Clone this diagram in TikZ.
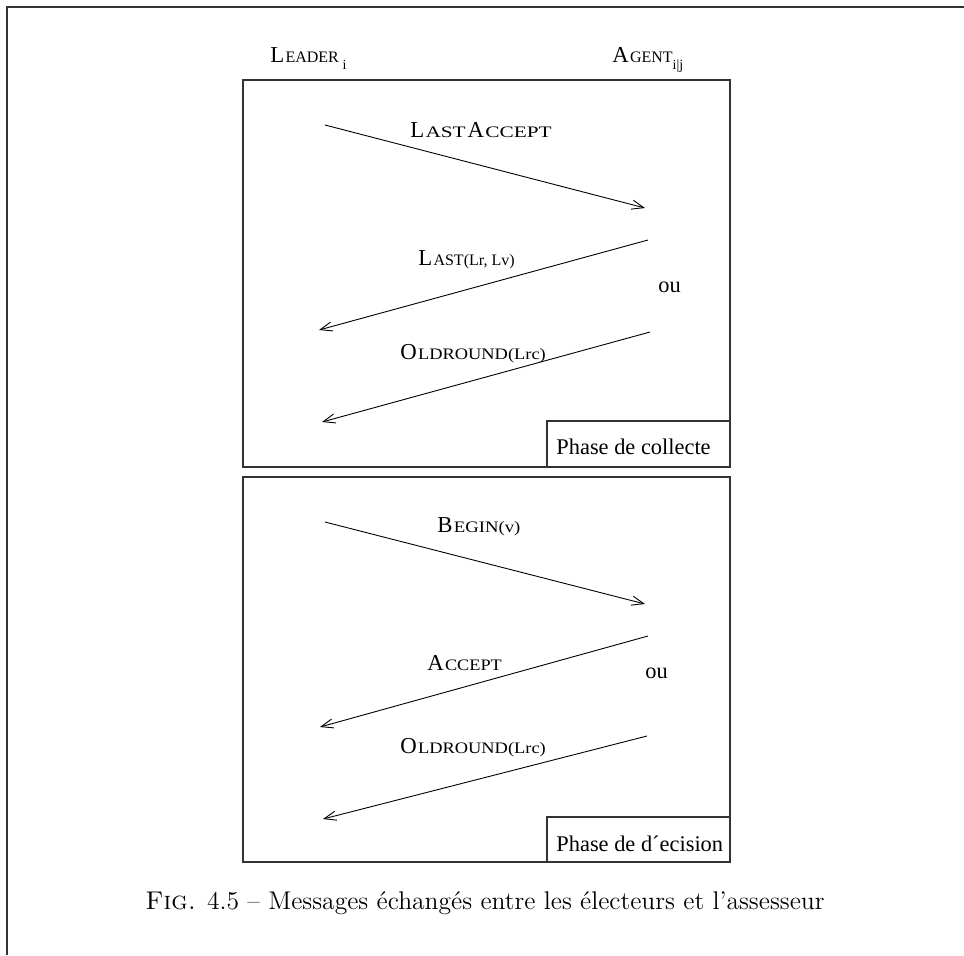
\documentclass[tikz,border=0pt]{standalone}
\usepackage{graphicx}
\usepackage{fontspec}
\newfontfamily\tms{Liberation Serif}
\usetikzlibrary{arrows.meta}
% xfig-like small capitals: large initial, smaller (optionally widened) remainder
\newcommand\capsL[3][1]{{\fontsize{11.4}{13}\selectfont #2}\kern0.6pt\scalebox{#1}[1]{\fontsize{8}{10}\selectfont #3}}
\newcommand\lowsub[1]{\raisebox{-3.8pt}{\fontsize{7}{8}\selectfont #1}}
\tikzset{
  msg/.style={-{Straight Barb[length=6pt,width=4.6pt]}, line width=0.45pt},
  panel/.style={draw=black!80, line width=0.6pt},
  lbl/.style={font=\tms\fontsize{11.2}{13}\selectfont, inner sep=0pt, anchor=base west},
}
\begin{document}
\begin{tikzpicture}[x=0.5pt,y=-0.5pt]
\useasboundingbox (0,0) rectangle (964,955);
% page frame
\draw[line width=0.9pt, black!80] (964,7) -- (7,7) -- (7,955);

% actors
\node[lbl] (leader) at (270,62) {\capsL{L}{EADER}\,\lowsub{i}};
\node[lbl] (agent) at (612,62) {\capsL{A}{GENT}\lowsub{i|j}};

% collection phase
\draw[panel] (243,80) rectangle (730,467);
\draw[panel] (547,421) rectangle (730,467);
\node[lbl] (collecte) at (556,454) {Phase de collecte};

\coordinate (a1s) at (325,125); \coordinate (a1e) at (645,208);
\coordinate (a2s) at (648,240); \coordinate (a2e) at (319,330);
\coordinate (a3s) at (650,332); \coordinate (a3e) at (322,422);
\draw[msg] (a1s) -- (a1e);
\draw[msg] (a2s) -- (a2e);
\draw[msg] (a3s) -- (a3e);
\node[lbl] (lastaccept) at (410,137) {\capsL[1.33]{L}{AST}\kern1pt\capsL[1.33]{A}{CCEPT}};
\node[lbl] (last) at (418,265) {\capsL{L}{AST(Lr, Lv)}};
\node[lbl] (ou1) at (658,292) {ou};
\node[lbl] (oldround1) at (400,359) {\capsL[1.15]{O}{LDROUND(Lrc)}};

% decision phase
\draw[panel] (243,477) rectangle (730,862);
\draw[panel] (547,817) rectangle (730,862);
\node[lbl] (decision) at (556,851) {Phase de d´ecision};

\coordinate (b1s) at (325,522); \coordinate (b1e) at (645,604);
\coordinate (b2s) at (648,636); \coordinate (b2e) at (320,727);
\coordinate (b3s) at (647,736); \coordinate (b3e) at (323,819);
\draw[msg] (b1s) -- (b1e);
\draw[msg] (b2s) -- (b2e);
\draw[msg] (b3s) -- (b3e);
\node[lbl] (begin) at (437,532) {\capsL[1.17]{B}{EGIN(v)}};
\node[lbl] (accept) at (427,670) {\capsL[1.14]{A}{CCEPT}};
\node[lbl] (ou2) at (645,678) {ou};
\node[lbl] (oldround2) at (400,753) {\capsL[1.15]{O}{LDROUND(Lrc)}};

% caption
\node[inner sep=0pt, anchor=base, font=\fontsize{12.8}{15}\selectfont] (caption) at (485,909)
  {\textsc{Fig.} 4.5 -- Messages échangés entre les électeurs et l'assesseur};
\end{tikzpicture}
\end{document}
